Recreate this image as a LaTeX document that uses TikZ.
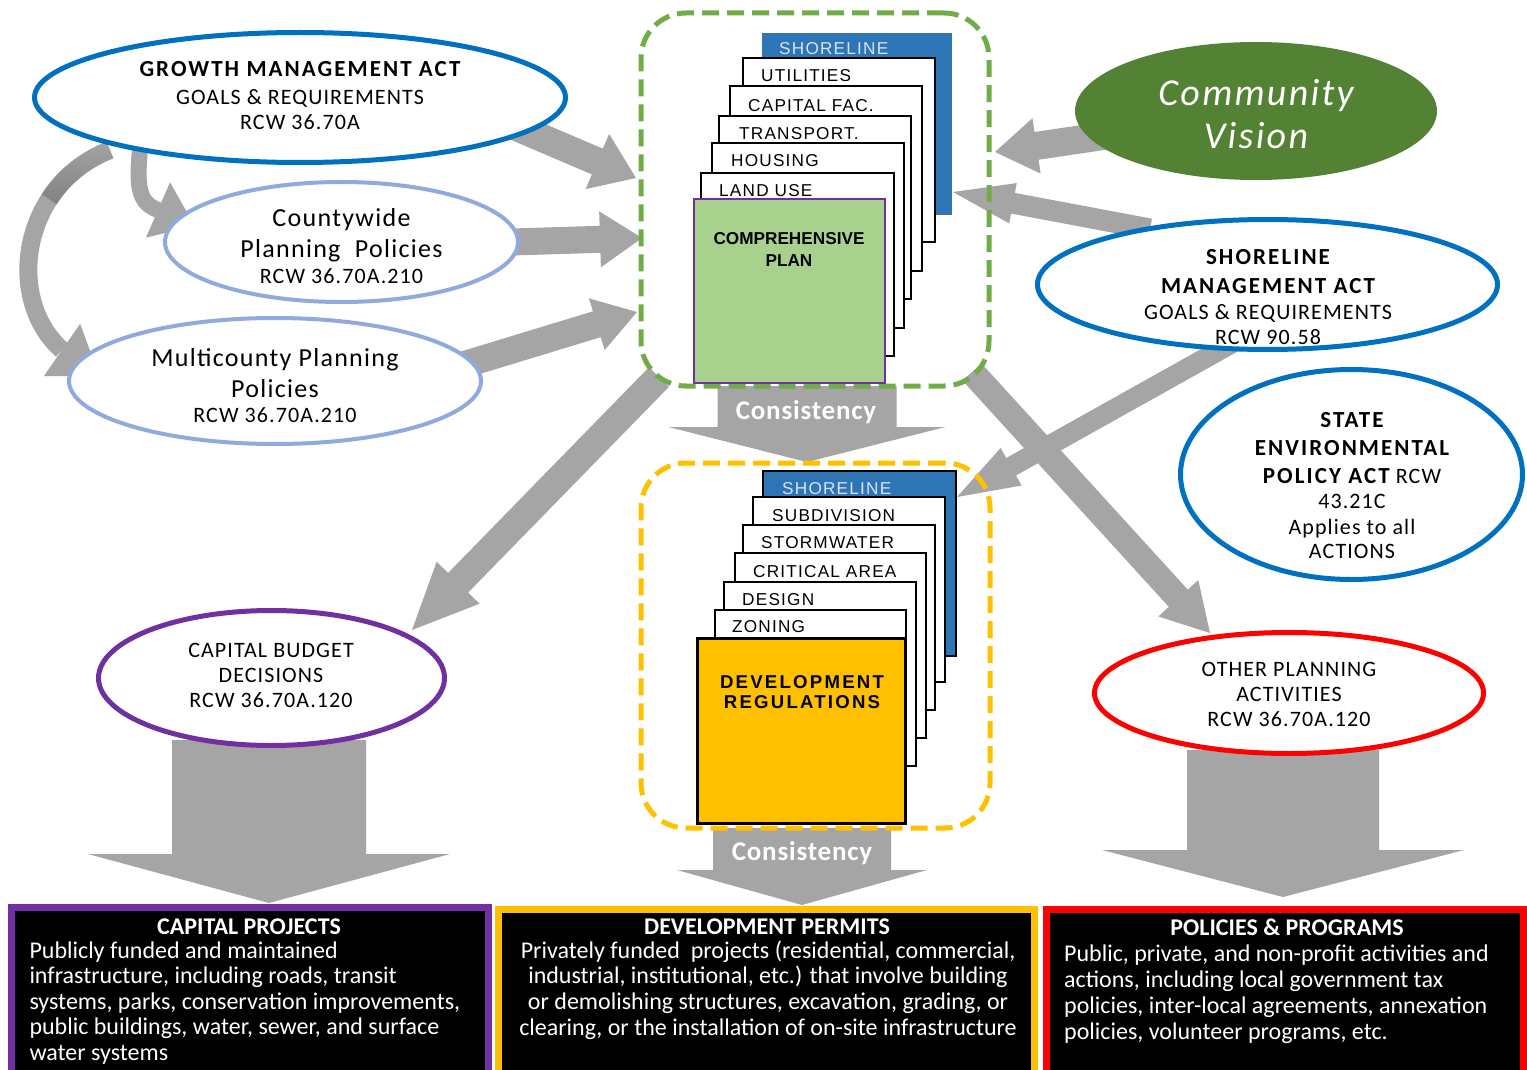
\documentclass[tikz,border=0pt]{standalone}
\usepackage{fontspec}
\setmainfont{Carlito}
\newfontfamily\ellf[LetterSpace=5]{Carlito}
\newfontfamily\ellbf[LetterSpace=9]{Carlito}
\newfontfamily\cvf[LetterSpace=6]{Carlito}
\newfontfamily\consf[LetterSpace=3]{Carlito}
\newfontfamily\pagef[LetterSpace=7]{Liberation Sans}
\newfontfamily\pagebf{Liberation Sans}
\newfontfamily\devf[LetterSpace=12]{Liberation Sans}
\usetikzlibrary{shapes.geometric,calc,fadings}
\definecolor{agray}{HTML}{A5A5A5}
\definecolor{dgray}{HTML}{7F7F7F}
\definecolor{gdash}{HTML}{70AD47}
\definecolor{ydash}{HTML}{FFC000}
\definecolor{shblue}{HTML}{2E75B6}
\definecolor{actblue}{HTML}{0070C0}
\definecolor{ltblue}{HTML}{8FAADC}
\definecolor{cvgreen}{HTML}{548235}
\definecolor{purp}{HTML}{7030A0}
\definecolor{cpgreen}{HTML}{A9D18E}
\definecolor{shtext}{HTML}{DAE3F3}
\newcommand\fsz[2]{\fontsize{#1}{#2}\selectfont}
\newcommand\gblockarrow[5]{%
  \path ($(#2)!#5!(#1)$) coordinate (hb);
  \fill[agray] ($(#1)!#3!90:(#2)$) -- ($(hb)!#3!90:(#2)$) -- ($(hb)!#4!90:(#2)$) -- (#2)
    -- ($(hb)!#4!-90:(#2)$) -- ($(hb)!#3!-90:(#2)$) -- ($(#1)!#3!-90:(#2)$) -- cycle;}
\begin{document}
\begin{tikzpicture}[x=1pt,y=-1pt,
  txt/.style={inner sep=0pt},
  page/.style={draw=black, line width=2.7pt, fill=white},
  shelf/.style={inner sep=0pt, anchor=west, font=\pagef\fsz{17.2}{20}},
  ell/.style={ellipse, fill=white, inner sep=0pt},
  dashbox/.style={line width=5pt, dash pattern=on 17pt off 8pt, rounded corners=45pt, inner sep=0pt},
  botbox/.style={fill=black, line width=7pt, inner sep=0pt}]
\useasboundingbox (0,0) rectangle (1527,1070);
\fill[white] (0,0) rectangle (1527,1070);

% ---------- gray connectors ----------
\coordinate (gmaA) at (500,120); \coordinate (gboxW1) at (636,178);
\gblockarrow{gmaA}{gboxW1}{14pt}{30pt}{42pt}
\coordinate (cppA) at (480,243); \coordinate (gboxW2) at (642,238);
\gblockarrow{cppA}{gboxW2}{13.5pt}{28pt}{42pt}
\coordinate (mppA) at (440,372); \coordinate (gboxW3) at (637,312);
\gblockarrow{mppA}{gboxW3}{13.5pt}{27pt}{42pt}
\coordinate (cvA) at (1110,135); \coordinate (gboxE1) at (995,152);
\gblockarrow{cvA}{gboxE1}{14pt}{28pt}{42pt}
\coordinate (smaA) at (1150,229); \coordinate (gboxE2) at (953,192);
\gblockarrow{smaA}{gboxE2}{10.5pt}{20.5pt}{61pt}
\coordinate (smaB) at (1236,341); \coordinate (yboxE) at (957,497);
\gblockarrow{smaB}{yboxE}{10pt}{21.5pt}{62pt}
\coordinate (gboxSE) at (972,372); \coordinate (opN) at (1210,633);
\gblockarrow{gboxSE}{opN}{12.8pt}{27pt}{47pt}
\coordinate (gboxSW) at (659,377); \coordinate (cbN) at (412,630);
\gblockarrow{gboxSW}{cbN}{14pt}{30pt}{66pt}
\coordinate (gboxS) at (807,386); \coordinate (yboxN) at (807,462);
\gblockarrow{gboxS}{yboxN}{89.5pt}{138.5pt}{35pt}
\coordinate (yboxS) at (802,828); \coordinate (dpN) at (802,905);
\gblockarrow{yboxS}{dpN}{89pt}{125pt}{35pt}
\coordinate (cbS) at (269,740); \coordinate (cpN) at (269,903);
\gblockarrow{cbS}{cpN}{97pt}{181pt}{49pt}
\coordinate (opS) at (1283,750); \coordinate (ppN) at (1283,897);
\gblockarrow{opS}{ppN}{96pt}{181pt}{47pt}
% curved arrows from GMA
\coordinate (gmaB) at (140,150); \coordinate (cppW) at (158,210);
\draw[agray, line width=16pt] (gmaB) .. controls (136,190) and (140,203) .. (cppW);
\fill[agray] (170,182.4) -- (194.8,226) -- (146,237.6) -- cycle;
\coordinate (gmaC) at (110,150); \coordinate (mppW) at (62,350);
\draw[agray, line width=18pt] (gmaC) .. controls (20,185) and (5,300) .. (mppW);
\draw[dgray, line width=18pt, path fading=north, fit fading=true] (gmaC) .. controls (83,160.5) and (62.75,178.2) .. (49.2,199.2);
\fill[agray] (80.2,323.8) -- (99,375.7) -- (43.8,376.2) -- cycle;

% ---------- dashed frames ----------
\node[dashbox, draw=gdash, minimum width=348pt, minimum height=373pt] (gbox) at (815,199.5) {};
\node[dashbox, draw=ydash, minimum width=349pt, minimum height=365pt] (ybox) at (815.5,645.5) {};

% ---------- comprehensive plan stack ----------
\fill[shblue] (762,33) rectangle (952,215);
\node[shelf, text=shtext] (p1) at (779,48.5) {SHORELINE};
\draw[page] (743,58) rectangle (935,242);
\node[shelf] (p2) at (761,75.5) {UTILITIES};
\draw[page] (730,86) rectangle (922,271);
\node[shelf] (p3) at (748,105.5) {CAPITAL FAC.};
\draw[page] (719,116) rectangle (911,299);
\node[shelf] (p4) at (739,134) {TRANSPORT.};
\draw[page] (712,143) rectangle (904,328);
\node[shelf] (p5) at (731,160.5) {HOUSING};
\draw[page] (701,173) rectangle (894,356);
\node[shelf] (p6) at (719,190.5) {LAND USE};
\draw[fill=cpgreen, draw=purp, line width=2.5pt] (694,199) rectangle (885,383);
\node[txt, align=center, anchor=base, font=\pagebf\bfseries\fsz{17.2}{21.7}] (cpt) at (789,266.2) {COMPREHENSIVE\\PLAN};

% ---------- development regulations stack ----------
\draw[page, fill=shblue] (763,471) rectangle (956,656);
\node[shelf, text=shtext] (q1) at (782,489) {SHORELINE};
\draw[page] (753,497) rectangle (945,682);
\node[shelf] (q2) at (772,515.3) {SUBDIVISION};
\draw[page] (743,525) rectangle (935,710);
\node[shelf] (q3) at (761,543) {STORMWATER};
\draw[page] (735,553) rectangle (926,738);
\node[shelf] (q4) at (753,571.7) {CRITICAL AREA};
\draw[page] (724,582) rectangle (916,766);
\node[shelf] (q5) at (742,600) {DESIGN};
\draw[page] (715,610) rectangle (906,794);
\node[shelf] (q6) at (732,626.3) {ZONING};
\draw[fill=ydash, draw=black, line width=3pt] (697,638) rectangle (905,823);
\node[txt, align=center, anchor=base, font=\devf\bfseries\fsz{18.6}{20.3}] (drt) at (802,708.7) {DEVELOPMENT\\REGULATIONS};

% ---------- ellipses ----------
\node[ell, draw=actblue, line width=5pt, minimum width=531pt, minimum height=130pt] (gma) at (300,97.5) {};
\node[ell, draw=ltblue, line width=4pt, minimum width=353pt, minimum height=120pt] (cpp) at (341.5,242) {};
\node[ell, draw=ltblue, line width=4pt, minimum width=412pt, minimum height=126pt] (mpp) at (275,381) {};
\node[ellipse, fill=cvgreen, inner sep=0pt, minimum width=362pt, minimum height=138pt] (cv) at (1256,111) {};
\node[ell, draw=actblue, line width=5pt, minimum width=460pt, minimum height=130pt] (sma) at (1267.5,284.5) {};
\node[ell, draw=actblue, line width=5pt, minimum width=342pt, minimum height=210pt] (sepa) at (1351.5,474.5) {};
\node[ell, draw=purp, line width=5pt, minimum width=346pt, minimum height=135pt] (cb) at (271.5,678) {};
\node[ell, draw=red, line width=5pt, minimum width=389pt, minimum height=121pt] (op) at (1289,693) {};

% ---------- ellipse texts (anchor = baseline of last line) ----------
\node[txt, anchor=base, align=center, font=\ellf\fsz{22}{25}] (gmat) at (300,129.1)
  {{\ellbf\bfseries\fsz{23}{25}GROWTH MANAGEMENT ACT}\\[2.3pt]GOALS \& REQUIREMENTS\\RCW 36.70A};
\node[txt, anchor=base, align=center, font=\ellf\fsz{22}{25.7}] (cppt) at (341.5,283.1)
  {{\fsz{26}{25.7}Countywide}\\[5.3pt]{\fsz{26}{25.7}Planning\ \ Policies}\\RCW 36.70A.210};
\node[txt, anchor=base, align=center, font=\ellf\fsz{22}{25}] (mppt) at (275,422.1)
  {{\fsz{26}{25}Multicounty Planning}\\[6pt]{\fsz{26}{25}Policies}\\RCW 36.70A.210};
\node[txt, anchor=base, align=center, text=white, font=\cvf\itshape\fsz{38}{43}] (cvt) at (1256,148.2)
  {Community\\Vision};
\node[txt, anchor=base, align=center, font=\ellf\fsz{22}{25}] (smat) at (1268,344.1)
  {{\ellbf\bfseries\fsz{23}{25}SHORELINE}\\[4pt]{\ellbf\bfseries\fsz{23}{25}MANAGEMENT ACT}\\[0.7pt]GOALS \& REQUIREMENTS\\RCW 90.58};
\node[txt, anchor=base, align=center, font=\ellf\fsz{22}{25}] (sepat) at (1352,558.1)
  {{\ellbf\bfseries\fsz{23}{25}STATE}\\[3pt]{\ellbf\bfseries\fsz{23}{25}ENVIRONMENTAL}\\[3pt]{\ellbf\bfseries\fsz{23}{25}POLICY ACT} RCW\\43.21C\\[1pt]Applies to all\\[-1pt]ACTIONS};
\node[txt, anchor=base, align=center, font=\ellf\fsz{22}{25}] (cbt) at (271,707.1)
  {CAPITAL BUDGET\\DECISIONS\\RCW 36.70A.120};
\node[txt, anchor=base, align=center, font=\ellf\fsz{22}{25}] (opt) at (1289,726.1)
  {OTHER PLANNING\\ACTIVITIES\\RCW 36.70A.120};

% ---------- consistency labels ----------
\node[txt, anchor=base, text=white, font=\consf\bfseries\fsz{27}{30}] (cons1) at (806,419.7) {Consistency};
\node[txt, anchor=base, text=white, font=\consf\bfseries\fsz{27}{30}] (cons2) at (802,860.7) {Consistency};

% ---------- bottom boxes ----------
\node[botbox, draw=purp, minimum width=477pt, minimum height=177.5pt] (cpbox) at (250,996.25) {};
\node[botbox, draw=ydash, minimum width=536pt, minimum height=175.5pt] (dpbox) at (766.5,997.25) {};
\node[botbox, draw=red, minimum width=477pt, minimum height=175.5pt] (ppbox) at (1285,997.25) {};

\node[txt, anchor=base, text=white, font=\bfseries\fsz{24}{25.5}] (cph) at (249,934.4) {CAPITAL PROJECTS};
\node[txt, anchor=base west, align=left, text=white, font=\fsz{24}{25.4}] (cpb) at (29.3,1060)
  {Publicly funded and maintained\\infrastructure, including roads, transit\\systems, parks, conservation improvements,\\public buildings, water, sewer, and surface\\water systems};
\node[txt, anchor=base, text=white, font=\bfseries\fsz{24}{25.5}] (dph) at (767,934) {DEVELOPMENT PERMITS};
\node[txt, anchor=base, align=center, text=white, font=\fsz{24}{25.6}] (dpb) at (768,1035.1)
  {Privately funded\ \ projects (residential, commercial,\\industrial, institutional, etc.) that involve building\\or demolishing structures, excavation, grading, or\\clearing, or the installation of on-site infrastructure};
\node[txt, anchor=base, text=white, font=\bfseries\fsz{24}{25.5}] (pph) at (1287,935) {POLICIES \& PROGRAMS};
\node[txt, anchor=base west, align=left, text=white, font=\fsz{24}{25.8}] (ppb) at (1064,1039.1)
  {Public, private, and non-profit activities and\\actions, including local government tax\\policies, inter-local agreements, annexation\\policies, volunteer programs, etc.};
\end{tikzpicture}
\end{document}
